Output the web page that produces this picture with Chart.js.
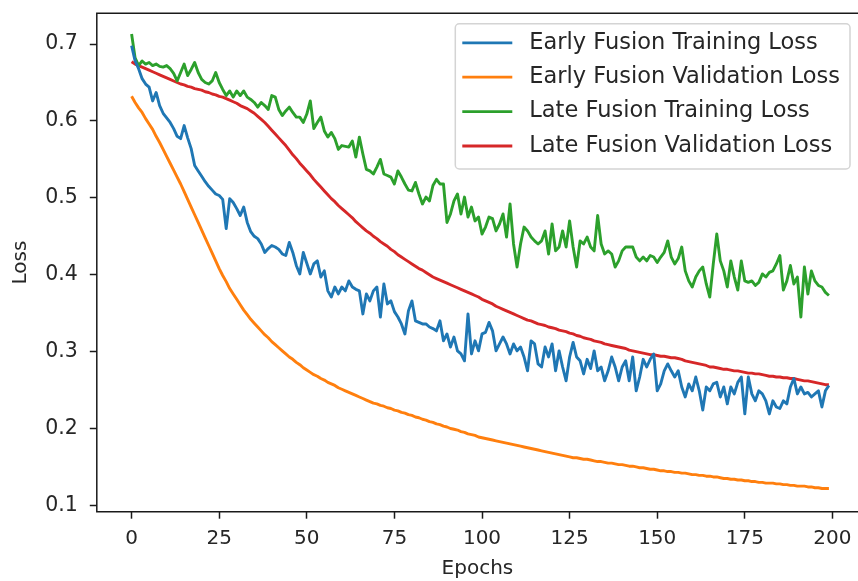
<!DOCTYPE html>
<html>
<head>
<meta charset="utf-8">
<style>
  html, body { margin: 0; padding: 0; background: #fff; overflow: hidden; }
  canvas { display: block; width: 858px; height: 581px; }
</style>
<script src="https://cdn.jsdelivr.net/npm/chart.js@4.4.1/dist/chart.umd.min.js"></script>
</head>
<body>
<canvas id="chart" width="858" height="581"></canvas>
<script>
const epochs = Array.from({ length: 200 }, (_, i) => i)
const xTicks = [0, 25, 50, 75, 100, 125, 150, 175, 200]
const yTicks = [0.1, 0.2, 0.3, 0.4, 0.5, 0.6, 0.7]

const seriesNames = [
  'Early Fusion Training Loss',
  'Early Fusion Validation Loss',
  'Late Fusion Training Loss',
  'Late Fusion Validation Loss',
]

const earlyTrain = [
  0.698, 0.678, 0.668, 0.655, 0.648, 0.644, 0.626, 0.637, 0.620, 0.610,
  0.604, 0.598, 0.590, 0.580, 0.577, 0.594, 0.578, 0.564, 0.542, 0.535,
  0.528, 0.521, 0.515, 0.510, 0.505, 0.503, 0.498, 0.460, 0.499, 0.494,
  0.486, 0.477, 0.488, 0.468, 0.456, 0.450, 0.447, 0.440, 0.429, 0.434,
  0.438, 0.436, 0.433, 0.427, 0.425, 0.442, 0.429, 0.412, 0.401, 0.429,
  0.415, 0.401, 0.414, 0.418, 0.397, 0.405, 0.379, 0.371, 0.384, 0.375,
  0.384, 0.379, 0.392, 0.384, 0.381, 0.379, 0.349, 0.375, 0.366, 0.379,
  0.384, 0.345, 0.388, 0.362, 0.366, 0.352, 0.345, 0.336, 0.323, 0.353,
  0.366, 0.340, 0.338, 0.336, 0.336, 0.332, 0.330, 0.327, 0.340, 0.314,
  0.323, 0.306, 0.319, 0.301, 0.297, 0.288, 0.349, 0.297, 0.314, 0.301,
  0.323, 0.325, 0.338, 0.327, 0.301, 0.310, 0.319, 0.310, 0.297, 0.310,
  0.301, 0.306, 0.293, 0.275, 0.314, 0.310, 0.284, 0.280, 0.306, 0.293,
  0.310, 0.275, 0.301, 0.280, 0.262, 0.293, 0.312, 0.293, 0.288, 0.271,
  0.290, 0.278, 0.301, 0.275, 0.280, 0.262, 0.275, 0.293, 0.280, 0.262,
  0.280, 0.288, 0.262, 0.293, 0.249, 0.267, 0.290, 0.280, 0.290, 0.297,
  0.249, 0.258, 0.275, 0.284, 0.275, 0.267, 0.275, 0.254, 0.241, 0.258,
  0.249, 0.267, 0.249, 0.224, 0.254, 0.249, 0.258, 0.260, 0.241, 0.254,
  0.232, 0.254, 0.245, 0.260, 0.267, 0.219, 0.267, 0.245, 0.236, 0.249,
  0.245, 0.236, 0.219, 0.236, 0.228, 0.226, 0.236, 0.232, 0.254, 0.265,
  0.245, 0.254, 0.245, 0.247, 0.241, 0.245, 0.249, 0.228, 0.249, 0.256,
]

const earlyVal = [
  0.632, 0.624, 0.617, 0.611, 0.603, 0.596, 0.589, 0.580, 0.572, 0.563,
  0.554, 0.545, 0.536, 0.527, 0.518, 0.508, 0.498, 0.488, 0.478, 0.468,
  0.458, 0.448, 0.438, 0.428, 0.418, 0.408, 0.399, 0.391, 0.382, 0.375,
  0.368, 0.361, 0.354, 0.348, 0.342, 0.337, 0.332, 0.327, 0.322, 0.318,
  0.313, 0.309, 0.305, 0.301, 0.297, 0.293, 0.290, 0.286, 0.283, 0.279,
  0.276, 0.273, 0.270, 0.268, 0.265, 0.263, 0.260, 0.258, 0.256, 0.253,
  0.251, 0.249, 0.247, 0.245, 0.243, 0.241, 0.239, 0.237, 0.235, 0.233,
  0.232, 0.230, 0.229, 0.227, 0.226, 0.224, 0.223, 0.221, 0.220, 0.218,
  0.217, 0.215, 0.214, 0.212, 0.211, 0.209, 0.208, 0.206, 0.205, 0.203,
  0.202, 0.200, 0.199, 0.198, 0.196, 0.195, 0.193, 0.192, 0.191, 0.189,
  0.188, 0.187, 0.186, 0.185, 0.184, 0.183, 0.182, 0.181, 0.180, 0.179,
  0.178, 0.177, 0.176, 0.175, 0.174, 0.173, 0.172, 0.171, 0.170, 0.169,
  0.168, 0.167, 0.166, 0.165, 0.164, 0.163, 0.162, 0.162, 0.161, 0.160,
  0.160, 0.159, 0.158, 0.157, 0.157, 0.156, 0.155, 0.155, 0.154, 0.153,
  0.153, 0.152, 0.151, 0.151, 0.150, 0.149, 0.149, 0.148, 0.147, 0.147,
  0.146, 0.145, 0.145, 0.144, 0.144, 0.143, 0.143, 0.142, 0.142, 0.141,
  0.140, 0.140, 0.139, 0.139, 0.138, 0.138, 0.137, 0.137, 0.136, 0.135,
  0.135, 0.134, 0.134, 0.133, 0.133, 0.132, 0.132, 0.131, 0.131, 0.130,
  0.130, 0.129, 0.129, 0.129, 0.128, 0.128, 0.127, 0.127, 0.126, 0.126,
  0.125, 0.125, 0.125, 0.124, 0.124, 0.123, 0.123, 0.122, 0.122, 0.122,
]

const lateTrain = [
  0.713, 0.682, 0.672, 0.678, 0.674, 0.676, 0.672, 0.674, 0.671, 0.670,
  0.672, 0.668, 0.662, 0.652, 0.663, 0.674, 0.659, 0.667, 0.676, 0.663,
  0.654, 0.650, 0.648, 0.652, 0.663, 0.650, 0.641, 0.633, 0.639, 0.631,
  0.639, 0.633, 0.639, 0.631, 0.628, 0.624, 0.618, 0.624, 0.620, 0.615,
  0.633, 0.631, 0.615, 0.607, 0.613, 0.618, 0.611, 0.605, 0.605, 0.598,
  0.609, 0.626, 0.590, 0.598, 0.605, 0.587, 0.579, 0.585, 0.577, 0.563,
  0.568, 0.567, 0.566, 0.574, 0.553, 0.579, 0.557, 0.537, 0.535, 0.531,
  0.540, 0.550, 0.531, 0.529, 0.527, 0.518, 0.535, 0.527, 0.518, 0.510,
  0.509, 0.520, 0.505, 0.492, 0.501, 0.496, 0.516, 0.524, 0.518, 0.518,
  0.468, 0.479, 0.496, 0.505, 0.479, 0.501, 0.475, 0.488, 0.470, 0.475,
  0.453, 0.462, 0.475, 0.473, 0.457, 0.466, 0.479, 0.449, 0.492, 0.440,
  0.410, 0.440, 0.462, 0.457, 0.449, 0.444, 0.440, 0.444, 0.457, 0.427,
  0.466, 0.431, 0.436, 0.457, 0.436, 0.470, 0.436, 0.410, 0.444, 0.440,
  0.449, 0.436, 0.431, 0.477, 0.440, 0.427, 0.431, 0.427, 0.410, 0.418,
  0.431, 0.436, 0.436, 0.436, 0.423, 0.418, 0.423, 0.418, 0.425, 0.423,
  0.416, 0.423, 0.429, 0.444, 0.423, 0.414, 0.421, 0.436, 0.405, 0.392,
  0.384, 0.397, 0.405, 0.410, 0.388, 0.371, 0.414, 0.453, 0.418, 0.405,
  0.384, 0.418, 0.397, 0.380, 0.418, 0.392, 0.390, 0.392, 0.386, 0.390,
  0.401, 0.397, 0.403, 0.405, 0.414, 0.425, 0.380, 0.392, 0.412, 0.388,
  0.397, 0.345, 0.410, 0.375, 0.405, 0.392, 0.386, 0.384, 0.377, 0.373,
]

const lateVal = [
  0.677, 0.674, 0.672, 0.670, 0.668, 0.666, 0.664, 0.662, 0.660, 0.658,
  0.656, 0.654, 0.652, 0.650, 0.648, 0.647, 0.645, 0.644, 0.642, 0.641,
  0.640, 0.638, 0.637, 0.635, 0.634, 0.632, 0.631, 0.629, 0.627, 0.625,
  0.623, 0.620, 0.618, 0.616, 0.613, 0.610, 0.606, 0.602, 0.598, 0.593,
  0.588, 0.583, 0.578, 0.573, 0.568, 0.562, 0.556, 0.551, 0.545, 0.540,
  0.535, 0.530, 0.524, 0.519, 0.514, 0.509, 0.504, 0.499, 0.495, 0.490,
  0.486, 0.482, 0.478, 0.474, 0.469, 0.465, 0.461, 0.457, 0.454, 0.450,
  0.447, 0.443, 0.440, 0.437, 0.433, 0.430, 0.426, 0.423, 0.420, 0.417,
  0.414, 0.411, 0.408, 0.406, 0.403, 0.400, 0.397, 0.395, 0.393, 0.391,
  0.389, 0.387, 0.385, 0.383, 0.381, 0.379, 0.377, 0.375, 0.373, 0.371,
  0.368, 0.366, 0.364, 0.362, 0.359, 0.357, 0.355, 0.353, 0.351, 0.349,
  0.347, 0.345, 0.343, 0.341, 0.340, 0.338, 0.336, 0.335, 0.334, 0.332,
  0.331, 0.330, 0.328, 0.327, 0.326, 0.324, 0.323, 0.321, 0.320, 0.318,
  0.317, 0.316, 0.314, 0.313, 0.312, 0.310, 0.309, 0.308, 0.307, 0.306,
  0.305, 0.304, 0.302, 0.301, 0.300, 0.299, 0.298, 0.297, 0.296, 0.296,
  0.295, 0.294, 0.294, 0.293, 0.292, 0.292, 0.291, 0.290, 0.288, 0.287,
  0.286, 0.285, 0.284, 0.283, 0.282, 0.280, 0.280, 0.279, 0.278, 0.277,
  0.277, 0.276, 0.275, 0.275, 0.274, 0.273, 0.272, 0.272, 0.271, 0.271,
  0.270, 0.269, 0.268, 0.268, 0.267, 0.267, 0.266, 0.266, 0.265, 0.265,
  0.264, 0.263, 0.262, 0.262, 0.261, 0.260, 0.259, 0.258, 0.257, 0.257,
]

const colors = ['#1f77b4', '#ff7f0e', '#2ca02c', '#d62728']
const ink = '#262626'

Chart.defaults.font.family = '"DejaVu Sans", sans-serif'

// matplotlib-style legend box drawn inside the plot, upper right
const boxLegend = {
  id: 'boxLegend',
  afterDatasetsDraw(chart) {
    const { ctx, chartArea } = chart
    const sets = chart.data.datasets
    ctx.save()
    ctx.font = '22.5px "DejaVu Sans"'
    const textW = Math.max(...sets.map((d) => ctx.measureText(d.label).width))
    const rowH = 34.4
    const w = 7 + 50 + 17 + textW + 10
    const h = 19 + rowH * (sets.length - 1) + 23
    const left = chart.width - 8 - w
    const top = chartArea.top + 10.5
    ctx.beginPath()
    ctx.roundRect(left, top, w, h, 4)
    ctx.fillStyle = 'rgba(255,255,255,0.8)'
    ctx.fill()
    ctx.strokeStyle = '#d4d4d4'
    ctx.lineWidth = 1.5
    ctx.stroke()
    sets.forEach((d, i) => {
      const y = top + 19 + rowH * i
      ctx.beginPath()
      ctx.moveTo(left + 7, y)
      ctx.lineTo(left + 57, y)
      ctx.strokeStyle = d.borderColor
      ctx.lineWidth = 2.8
      ctx.stroke()
      ctx.fillStyle = ink
      ctx.textBaseline = 'middle'
      ctx.fillText(d.label, left + 74, y)
    })
    ctx.restore()
  },
}

// left, top and bottom spines; the right side of the axes box falls outside the picture,
// so the strip along the right edge is cleared first
const frame = {
  id: 'frame',
  afterDraw(chart) {
    const { ctx, chartArea: a } = chart
    ctx.save()
    ctx.fillStyle = '#fff'
    ctx.fillRect(chart.width - 5, a.top + 1, 5, a.bottom - a.top - 2)
    ctx.strokeStyle = '#1a1a1a'
    ctx.lineWidth = 1.5
    ctx.beginPath()
    ctx.moveTo(chart.width, a.top)
    ctx.lineTo(a.left, a.top)
    ctx.lineTo(a.left, a.bottom)
    ctx.lineTo(chart.width, a.bottom)
    ctx.stroke()
    ctx.restore()
  },
}

const tickGrid = () => ({
  display: true,
  drawOnChartArea: false,
  drawTicks: true,
  tickLength: 7,
  tickWidth: 1.5,
  tickColor: '#1a1a1a',
})

// keep the axes from pushing the plot area inwards for their labels
function noPad(s) {
  s.paddingTop = 0
  s.paddingBottom = 0
  s.paddingLeft = 0
  s.paddingRight = 0
}

new Chart(document.getElementById('chart'), {
  type: 'line',
  data: {
    labels: epochs,
    datasets: [earlyTrain, earlyVal, lateTrain, lateVal].map((values, i) => ({
      label: seriesNames[i],
      data: values,
      borderColor: colors[i],
      borderWidth: 2.9,
      pointRadius: 0,
      tension: 0,
      fill: false,
      borderJoinStyle: 'round',
    })),
  },
  options: {
    responsive: false,
    animation: false,
    devicePixelRatio: 1,
    layout: { padding: { top: 13.3, right: 0, left: 0, bottom: 0 } },
    plugins: { legend: { display: false }, tooltip: { enabled: false } },
    scales: {
      x: {
        type: 'linear',
        min: -9.93,
        max: 207.3,
        afterBuildTicks: (s) => { s.ticks = xTicks.map((v) => ({ value: v })) },
        afterFit: (s) => { s.height = 69.3; noPad(s) },
        grid: tickGrid(),
        border: { display: false },
        ticks: { padding: 8, color: ink, font: { size: 20 }, maxRotation: 0, callback: (v) => String(v) },
        title: { display: true, text: 'Epochs', color: ink, font: { size: 20 }, padding: { top: 0, bottom: 0 } },
      },
      y: {
        type: 'linear',
        min: 0.0918,
        max: 0.740,
        afterBuildTicks: (s) => { s.ticks = yTicks.map((v) => ({ value: v })) },
        afterFit: (s) => { s.width = 96.8; noPad(s) },
        grid: tickGrid(),
        border: { display: false },
        ticks: { padding: 12, color: ink, font: { size: 20.5 }, callback: (v) => v.toFixed(1) },
        title: { display: true, text: 'Loss', color: ink, font: { size: 20 }, padding: { top: 9, bottom: 0 } },
      },
    },
  },
  plugins: [boxLegend, frame],
})
</script>
</body>
</html>
